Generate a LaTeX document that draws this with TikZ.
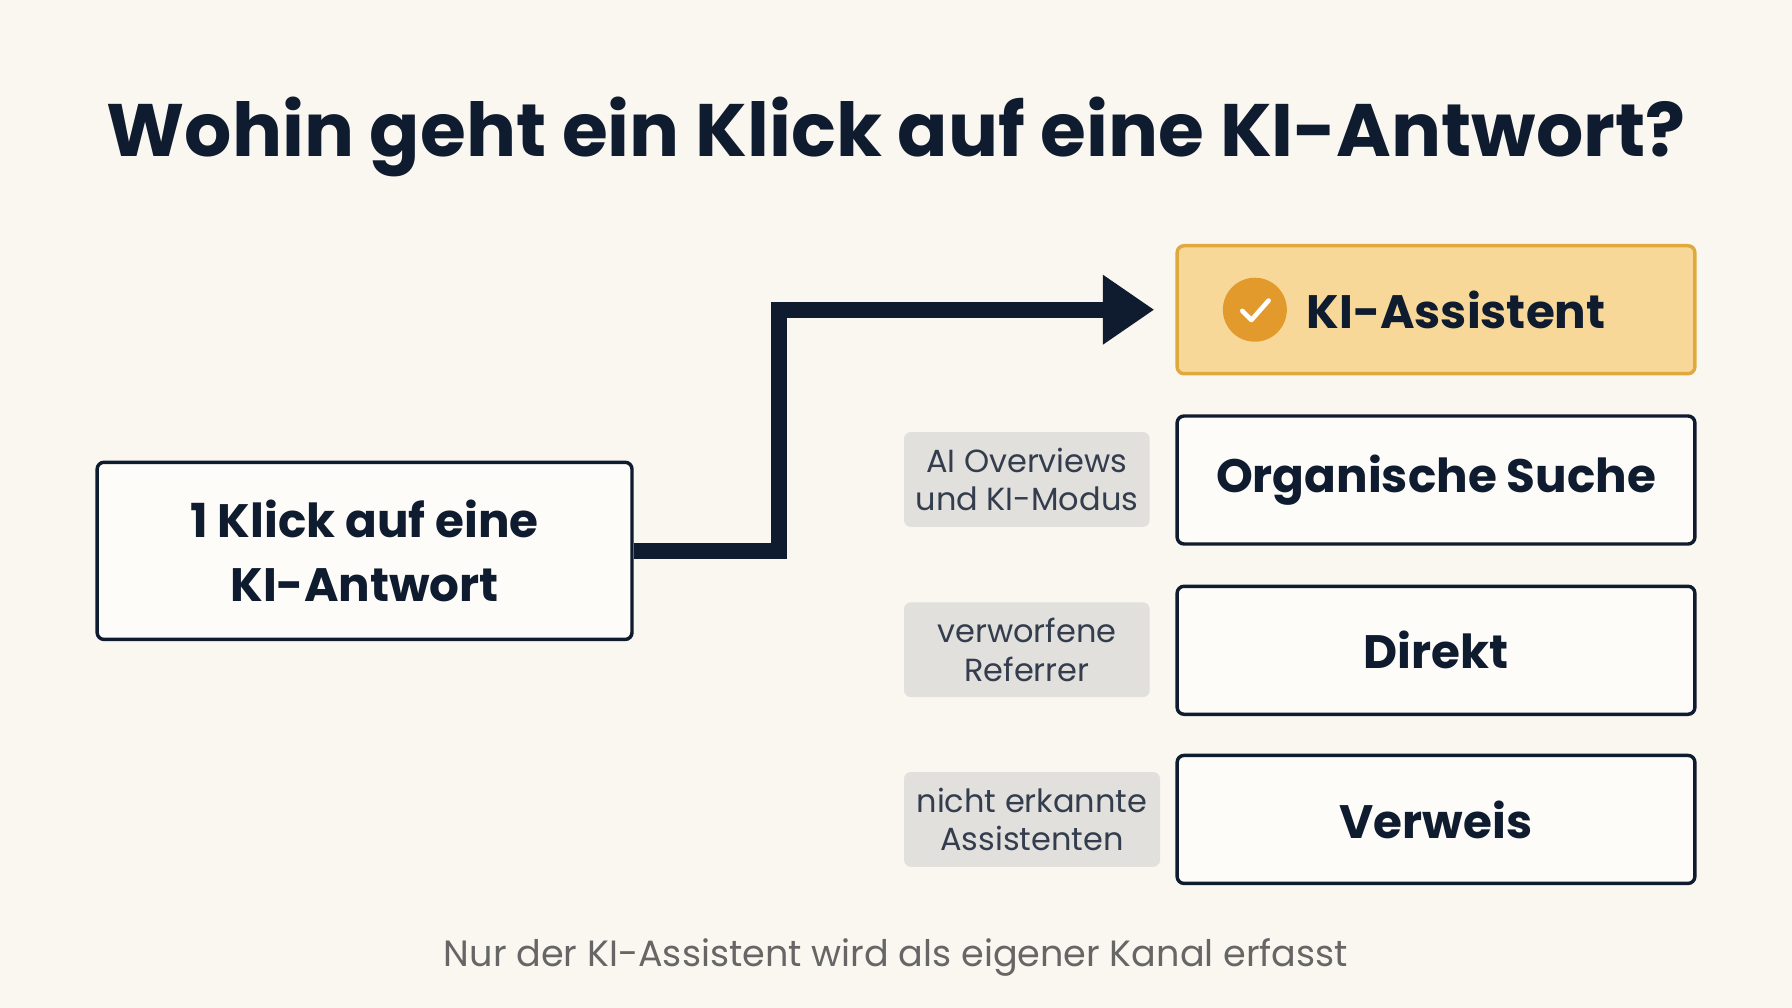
\documentclass[tikz,border=0pt]{standalone}
\usepackage{fontspec}
\setmainfont{Poppins}
\usetikzlibrary{arrows.meta}
\definecolor{bg}{HTML}{FAF7F0}
\definecolor{ink}{HTML}{0F1B2E}
\definecolor{gold}{HTML}{F8D898}
\definecolor{goldb}{HTML}{E0A940}
\definecolor{orng}{HTML}{E39A2D}
\definecolor{chip}{HTML}{E2E0DC}
\begin{document}
\begin{tikzpicture}[x=1pt,y=-1pt,
  box/.style={draw=ink,line width=3pt,rounded corners=6pt,fill=white!60!bg,inner sep=0pt,align=center,text=ink},
  chan/.style={box,minimum width=453pt,minimum height=112pt,font=\fontsize{41}{48}\selectfont\bfseries},
  tag/.style={fill=chip,rounded corners=6pt,inner sep=0pt,align=center,text=ink!85,minimum height=83pt,font=\fontsize{28}{34}\selectfont}]
\fill[bg] (0,0) rectangle (1568,882);
\useasboundingbox (0,0) rectangle (1568,882);
\node[text=ink,font=\fontsize{65}{75}\selectfont\bfseries] (title) at (784,120) {Wohin geht ein Klick auf eine KI-Antwort?};
\node[box,minimum width=468pt,minimum height=155pt,font=\fontsize{41}{56}\selectfont\bfseries] (src) at (319,482) {1 Klick auf eine\\KI-Antwort};
\node[chan,draw=goldb,fill=gold] (ki) at (1256.5,271) {};
\node[text=ink,font=\fontsize{41}{48}\selectfont\bfseries,anchor=west,inner sep=0pt] (kit) at (1143,271) {KI-Assistent};
\node[circle,fill=orng,minimum size=56pt,inner sep=0pt] (ic) at (1098,271) {};
\draw[white,line width=4pt,line cap=round,line join=round] ([shift={(-11,1)}]ic.center) -- ([shift={(-3,9)}]ic.center) -- ([shift={(12,-8)}]ic.center);
\node[chan] (org) at (1256.5,420) {Organische Suche};
\node[chan] (dir) at (1256.5,569) {Direkt};
\node[chan] (ver) at (1256.5,717) {Verweis};
\node[tag,minimum width=215pt] (t1) at (898.5,419.5) {AI Overviews\\und KI-Modus};
\node[tag,minimum width=215pt] (t2) at (898.5,568.5) {verworfene\\Referrer};
\node[tag,minimum width=224pt] (t3) at (903,717) {nicht erkannte\\Assistenten};
\coordinate (tip) at (1010,271);
\draw[ink,line width=14pt,-{Triangle[length=45pt,width=58pt]}] (src.east) -- (682,482) -- (682,271) -- (tip);
\node[text=black!60,font=\fontsize{32}{36}\selectfont] (foot) at (784,838) {Nur der KI-Assistent wird als eigener Kanal erfasst};
\end{tikzpicture}
\end{document}
